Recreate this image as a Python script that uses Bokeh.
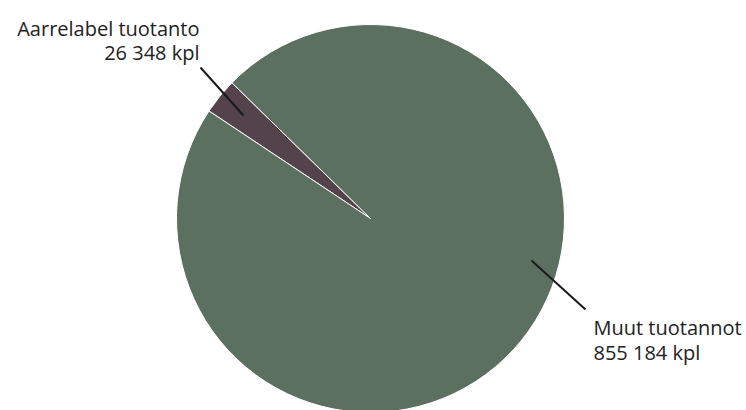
import math
from bokeh.plotting import figure
from bokeh.models import Range1d, ColumnDataSource
from bokeh.core.properties import value
from bokeh.embed import file_html
from bokeh.resources import INLINE

categories = ["Aarrelabel tuotanto", "Muut tuotannot"]
counts = [26348, 855184]
value_labels = ["26 348 kpl", "855 184 kpl"]
colors = ["#55434c", "#5c7061"]

W, H = 746, 410
p = figure(width=W, height=H, output_backend="svg", toolbar_location=None,
           x_range=Range1d(0, W), y_range=Range1d(0, H), min_border=0)
p.axis.visible = False
p.grid.visible = False
p.outline_line_color = None

start0 = math.radians(135.6)
total = sum(counts)
starts, ends = [], []
a = start0
for c in counts:
    starts.append(a)
    a += 2 * math.pi * c / total
    ends.append(a)

src = ColumnDataSource(dict(start=starts, end=ends, color=colors, cat=categories))
p.wedge(x=370, y=192, radius=194, start_angle="start", end_angle="end",
        fill_color="color", line_color="white", line_width=1, source=src)

# connectors
p.line(x=[243, 200], y=[295, 343], line_color="#1a1a1a", line_width=2)
p.line(x=[531, 585], y=[150, 101], line_color="#1a1a1a", line_width=2)

font = value("Open Sans")
p.text(x=[199, 199], y=[382, 358], text=[categories[0], value_labels[0]],
       text_align="right", text_baseline="alphabetic", text_font=font,
       text_font_size="20px", text_color="#222222")
p.text(x=[593, 593], y=[83, 58], text=[categories[1], value_labels[1]],
       text_align="left", text_baseline="alphabetic", text_font=font,
       text_font_size="20px", text_color="#222222")

open("out.html", "w").write(file_html(p, INLINE))
